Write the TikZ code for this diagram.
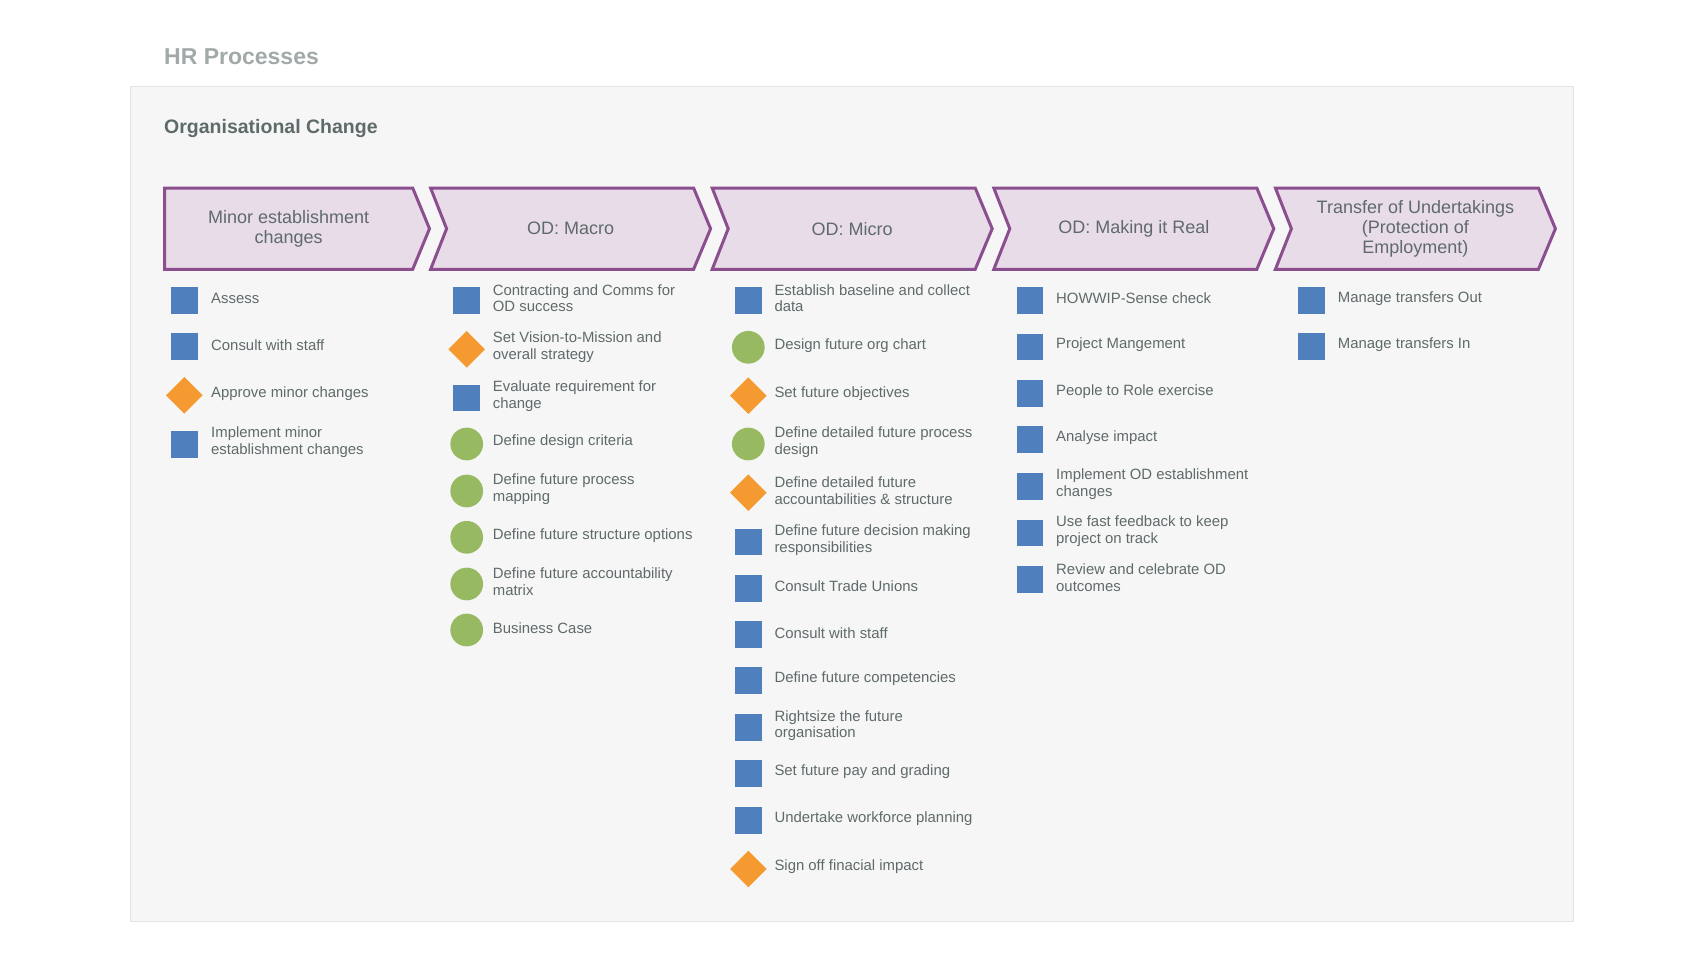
\documentclass[tikz,border=0pt]{standalone}
\usepackage{fontspec}
\setmainfont{Liberation Sans}
\usetikzlibrary{positioning}
\usetikzlibrary{shapes.geometric}

\definecolor{panelfill}{HTML}{F6F6F6}
\definecolor{panelline}{HTML}{E3E3E3}
\definecolor{chevfill}{HTML}{E8DCE8}
\definecolor{chevline}{HTML}{8B4F8F}
\definecolor{inkgray}{HTML}{5F6A6A}
\definecolor{titlegray}{HTML}{A2A9A9}
\definecolor{actblue}{HTML}{4F80BD}
\definecolor{designgreen}{HTML}{96B962}
\definecolor{signorange}{HTML}{F49A31}

\begin{document}
\begin{tikzpicture}[
        x = 1pt, y = -1pt, % pixel grid, y going down
        chevron/.style = {draw=chevline, fill=chevfill, line width=3pt, line join=miter},
        phase/.style = {text=inkgray, align=center, inner sep=0pt, font=\fontsize{18}{19.8}\selectfont},
        actbox/.style = {rectangle, fill=actblue, minimum size=26.7pt, inner sep=0pt},
        signoff/.style = {diamond, fill=signorange, minimum size=36.7pt, inner sep=0pt},
        designdot/.style = {circle, fill=designgreen, minimum size=32.7pt, inner sep=0pt},
        itemtext/.style = {anchor=west, text=inkgray, align=left, inner sep=0pt, font=\fontsize{14.9}{16.7}\selectfont}
        ]

  \useasboundingbox (0,0) rectangle (1705,971);
  \draw[panelline, fill=panelfill] (130.5,86) rectangle (1573,921);

  \node[anchor=base west, inner sep=0pt, text=titlegray, font=\bfseries\fontsize{23}{27}\selectfont] (title) at (164,65) {HR Processes};
  \node[anchor=base west, inner sep=0pt, text=inkgray, font=\bfseries\fontsize{19.5}{23}\selectfont] (group) at (164,134) {Organisational Change};

  % phase chevrons
  \draw[chevron] (164.7,188) -- ++(248,0) -- ++(16.8,40.7) -- ++(-16.8,40.6) -- ++(-248,0) -- cycle;
  \draw[chevron] (430.6,188) -- ++(263,0) -- ++(17,40.7) -- ++(-17,40.6) -- ++(-263,0) -- ++(16,-40.6) -- cycle;
  \draw[chevron] (712.2,188) -- ++(263,0) -- ++(17,40.7) -- ++(-17,40.6) -- ++(-263,0) -- ++(16,-40.6) -- cycle;
  \draw[chevron] (993.8,188) -- ++(263,0) -- ++(17,40.7) -- ++(-17,40.6) -- ++(-263,0) -- ++(16,-40.6) -- cycle;
  \draw[chevron] (1275.4,188) -- ++(263,0) -- ++(17,40.7) -- ++(-17,40.6) -- ++(-263,0) -- ++(16,-40.6) -- cycle;

  \node[phase] (minor) at (288.7,228.7) {Minor establishment\\changes};
  \node[phase] (macro) at (570.6,228.7) {OD: Macro};
  \node[phase] (micro) at (852.2,228.7) {OD: Micro};
  \node[phase] (real) at (1133.8,228.7) {OD: Making it Real};
  \node[phase] (tupe) at (1415.4,228.7) {Transfer of Undertakings\\(Protection of\\Employment)};

  % minor establishment changes
  \node[actbox] (mn1) at (184.3,300.3) {};
  \node[itemtext] (mnt1) at (211,298.3) {Assess};
  \node[actbox] (mn2) at (184.3,346.7) {};
  \node[itemtext] (mnt2) at (211,344.7) {Consult with staff};
  \node[signoff] (mn3) at (184.3,395.3) {};
  \node[itemtext] (mnt3) at (211,393.3) {Approve minor changes};
  \node[actbox] (mn4) at (184.3,444.2) {};
  \node[itemtext] (mnt4) at (211,442.2) {Implement minor\\establishment changes};

  % OD: macro
  \node[actbox] (ma1) at (466.7,300.3) {};
  \node[itemtext] (mat1) at (492.7,298.3) {Contracting and Comms for\\OD success};
  \node[signoff] (ma2) at (466.7,349.3) {};
  \node[itemtext] (mat2) at (492.7,347.3) {Set Vision-to-Mission and\\overall strategy};
  \node[actbox] (ma3) at (466.7,398) {};
  \node[itemtext] (mat3) at (492.7,396) {Evaluate requirement for\\change};
  \node[designdot] (ma4) at (466.7,444) {};
  \node[itemtext] (mat4) at (492.7,442) {Define design criteria};
  \node[designdot] (ma5) at (466.7,491) {};
  \node[itemtext] (mat5) at (492.7,489) {Define future process\\mapping};
  \node[designdot] (ma6) at (466.7,537.3) {};
  \node[itemtext] (mat6) at (492.7,535.3) {Define future structure options};
  \node[designdot] (ma7) at (466.7,584) {};
  \node[itemtext] (mat7) at (492.7,582) {Define future accountability\\matrix};
  \node[designdot] (ma8) at (466.7,630) {};
  \node[itemtext] (mat8) at (492.7,628) {Business Case};

  % OD: micro
  \node[actbox] (mi1) at (748.3,300.3) {};
  \node[itemtext] (mit1) at (774.3,298.3) {Establish baseline and collect\\data};
  \node[designdot] (mi2) at (748.3,347.3) {};
  \node[itemtext] (mit2) at (774.3,345.3) {Design future org chart};
  \node[signoff] (mi3) at (748.3,395.7) {};
  \node[itemtext] (mit3) at (774.3,393.7) {Set future objectives};
  \node[designdot] (mi4) at (748.3,444) {};
  \node[itemtext] (mit4) at (774.3,442) {Define detailed future process\\design};
  \node[signoff] (mi5) at (748.3,492.7) {};
  \node[itemtext] (mit5) at (774.3,490.7) {Define detailed future\\accountabilities \& structure};
  \node[actbox] (mi6) at (748.3,542) {};
  \node[itemtext] (mit6) at (774.3,540) {Define future decision making\\responsibilities};
  \node[actbox] (mi7) at (748.3,588.2) {};
  \node[itemtext] (mit7) at (774.3,586.2) {Consult Trade Unions};
  \node[actbox] (mi8) at (748.3,634.7) {};
  \node[itemtext] (mit8) at (774.3,632.7) {Consult with staff};
  \node[actbox] (mi9) at (748.3,680.8) {};
  \node[itemtext] (mit9) at (774.3,678.8) {Define future competencies};
  \node[actbox] (mi10) at (748.3,727.5) {};
  \node[itemtext] (mit10) at (774.3,725.5) {Rightsize the future\\organisation};
  \node[actbox] (mi11) at (748.3,773.8) {};
  \node[itemtext] (mit11) at (774.3,771.8) {Set future pay and grading};
  \node[actbox] (mi12) at (748.3,820.3) {};
  \node[itemtext] (mit12) at (774.3,818.3) {Undertake workforce planning};
  \node[signoff] (mi13) at (748.3,869) {};
  \node[itemtext] (mit13) at (774.3,867) {Sign off finacial impact};

  % OD: making it real
  \node[actbox] (re1) at (1030,300.3) {};
  \node[itemtext] (ret1) at (1056,298.3) {HOWWIP-Sense check};
  \node[actbox] (re2) at (1030,347) {};
  \node[itemtext] (ret2) at (1056,345) {Project Mangement};
  \node[actbox] (re3) at (1030,393.3) {};
  \node[itemtext] (ret3) at (1056,391.3) {People to Role exercise};
  \node[actbox] (re4) at (1030,439.7) {};
  \node[itemtext] (ret4) at (1056,437.7) {Analyse impact};
  \node[actbox] (re5) at (1030,486.3) {};
  \node[itemtext] (ret5) at (1056,484.3) {Implement OD establishment\\changes};
  \node[actbox] (re6) at (1030,533) {};
  \node[itemtext] (ret6) at (1056,531) {Use fast feedback to keep\\project on track};
  \node[actbox] (re7) at (1030,579.7) {};
  \node[itemtext] (ret7) at (1056,577.7) {Review and celebrate OD\\outcomes};

  % transfer of undertakings
  \node[actbox] (tu1) at (1311.7,300.3) {};
  \node[itemtext] (tut1) at (1337.7,298.3) {Manage transfers Out};
  \node[actbox] (tu2) at (1311.7,346.7) {};
  \node[itemtext] (tut2) at (1337.7,344.7) {Manage transfers In};

\end{tikzpicture}
\end{document}
